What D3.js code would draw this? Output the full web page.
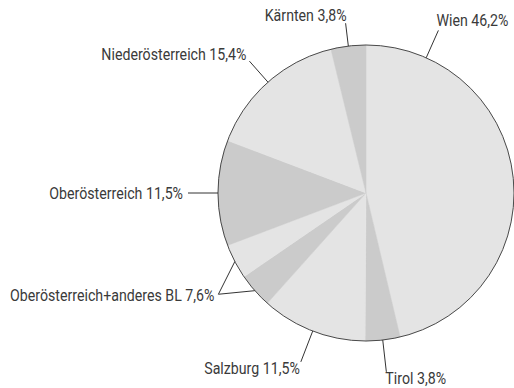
<!DOCTYPE html>
<html>
<head>
<meta charset="utf-8">
<script src="https://cdn.jsdelivr.net/npm/d3@7"></script>
<style>
  html, body { margin: 0; padding: 0; background: #fff; }
  svg { display: block; }
  text { font-family: "Roboto", "DejaVu Sans Condensed", sans-serif; font-weight: 400; fill: #3a3a3a; }
</style>
</head>
<body>
<svg id="chart" width="514" height="388"></svg>
<script>
// Slices clockwise from 12 o'clock (percent)
const sliceNames = ["Wien", "Tirol", "Salzburg", "Oberösterreich+anderes BL", "Oberösterreich+anderes BL", "Oberösterreich", "Niederösterreich", "Kärnten"];
const sliceValues = [46.2, 3.8, 11.5, 3.8, 3.8, 11.5, 15.4, 3.8];
const sliceShades = ["light", "dark", "light", "dark", "light", "dark", "light", "dark"];

// Labels and the slices each one points to
const labelNames = ["Wien", "Tirol", "Salzburg", "Oberösterreich+anderes BL", "Oberösterreich", "Niederösterreich", "Kärnten"];
const labelSlices = [[0], [1], [2], [3, 4], [5], [6], [7]];

// Label layout: leader length beyond the rim, optional angle override (deg), text offset and anchor
const labelLayout = [
  { len: 30, angle: 24, dx: -2, dy: -4,  anchor: "start" },
  { len: 32, dx: -1, dy: 12, anchor: "start" },
  { len: 33, dx: -1, dy: 12, anchor: "end" },
  { len: 31, dx: -4, dy: 7,  anchor: "end" },
  { len: 30, dx: -5, dy: 6,  anchor: "end" },
  { len: 28, dx: -3, dy: -1, anchor: "end" },
  { len: 23, dx: 1,  dy: -2, anchor: "end" }
];

const shadeColor = { light: "#e4e4e4", dark: "#cbcbcb" };
const cx = 366, cy = 193, r = 148;
const fontSize = 16.5, squeeze = 0.86;

const svg = d3.select("#chart");
const g = svg.append("g").attr("transform", `translate(${cx},${cy})`);

const pie = d3.pie().sort(null).value(d => d.value);
const arcs = pie(sliceValues.map((v, i) => ({ name: sliceNames[i], value: v, shade: sliceShades[i] })));
const arc = d3.arc().innerRadius(0).outerRadius(r);

g.selectAll("path.slice")
  .data(arcs)
  .join("path")
  .attr("class", "slice")
  .attr("d", arc)
  .attr("fill", d => shadeColor[d.data.shade])
  .attr("stroke", d => shadeColor[d.data.shade])
  .attr("stroke-width", 0.5);

// Outer rim
g.append("circle").attr("r", r).attr("fill", "none").attr("stroke", "#4a4a4a").attr("stroke-width", 1);

const polar = (a, rad) => [Math.sin(a) * rad, -Math.cos(a) * rad];
const fmt = v => d3.format(".1f")(v).replace(".", ",");

labelNames.forEach((name, i) => {
  const idx = labelSlices[i];
  const lay = labelLayout[i];
  const start = arcs[idx[0]].startAngle;
  const end = arcs[idx[idx.length - 1]].endAngle;
  const mid = lay.angle != null ? lay.angle * Math.PI / 180 : (start + end) / 2;
  const [px, py] = polar(mid, r + lay.len);
  const total = d3.sum(idx, k => sliceValues[k]);

  idx.forEach(k => {
    const a = lay.angle != null && idx.length === 1 ? mid : (arcs[k].startAngle + arcs[k].endAngle) / 2;
    const [ex, ey] = polar(a, r);
    g.append("line")
      .attr("x1", ex).attr("y1", ey).attr("x2", px).attr("y2", py)
      .attr("stroke", "#333").attr("stroke-width", 1);
  });

  // condensed label text
  g.append("text")
    .attr("transform", `translate(${px + lay.dx},${py + lay.dy}) scale(${squeeze},1)`)
    .attr("text-anchor", lay.anchor)
    .attr("font-size", fontSize)
    .text(`${name} ${fmt(total)}%`);
});
</script>
</body>
</html>
